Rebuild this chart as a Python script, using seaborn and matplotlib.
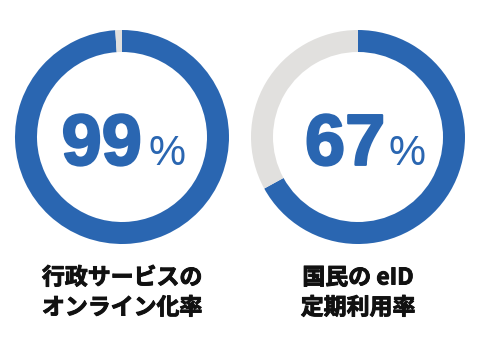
import numpy as np
import seaborn as sns
import matplotlib.pyplot as plt
import matplotlib.patheffects as pe

# values
rates = [99, 67]
label_top = ["行政サービスの", "国民の eID"]
label_bottom = ["オンライン化率", "定期利用率"]

blue = "#2a66b1"
grey = "#e1e0de"

sns.set_style("white")
plt.rcParams['font.family'] = ['Noto Sans CJK JP', 'DejaVu Sans']

fig = plt.figure(figsize=(4.8, 3.6), dpi=100)

# donut centres in pixels (from top-left) and radius
centres = [(122, 137), (358, 137)]
rad = 107
ring = 22
num_x = [-0.19, -0.12]
pct_x = [0.42, 0.46]

for i, rate in enumerate(rates):
    cx, cy = centres[i]
    ax = fig.add_axes([(cx - rad) / 480, (360 - cy - rad) / 360, 2 * rad / 480, 2 * rad / 360])
    ax.pie([rate, 100 - rate], colors=[blue, grey], startangle=90,
           counterclock=False, radius=1,
           wedgeprops=dict(width=ring / rad, linewidth=0))
    ax.set_xlim(-1, 1)
    ax.set_ylim(-1, 1)
    ax.set_aspect('equal')
    ax.axis('off')

    ax.text(num_x[i], -0.26, str(rate), ha='center', va='baseline',
            fontsize=52, fontweight='bold', color=blue, family='Liberation Sans',
            path_effects=[pe.withStroke(linewidth=1.6, foreground=blue)])
    ax.text(pct_x[i], -0.26, "%", ha='center', va='baseline',
            fontsize=30, color=blue, family='Liberation Sans')

    for txt, ypx in [(label_top[i], 278), (label_bottom[i], 308)]:
        fig.text(cx / 480, (360 - ypx) / 360, txt, ha='center', va='center',
                 fontsize=16.5, fontweight='bold', color='#111111',
                 path_effects=[pe.withStroke(linewidth=0.7, foreground='#111111')])

fig.savefig("out.png", dpi=100, facecolor='white')
